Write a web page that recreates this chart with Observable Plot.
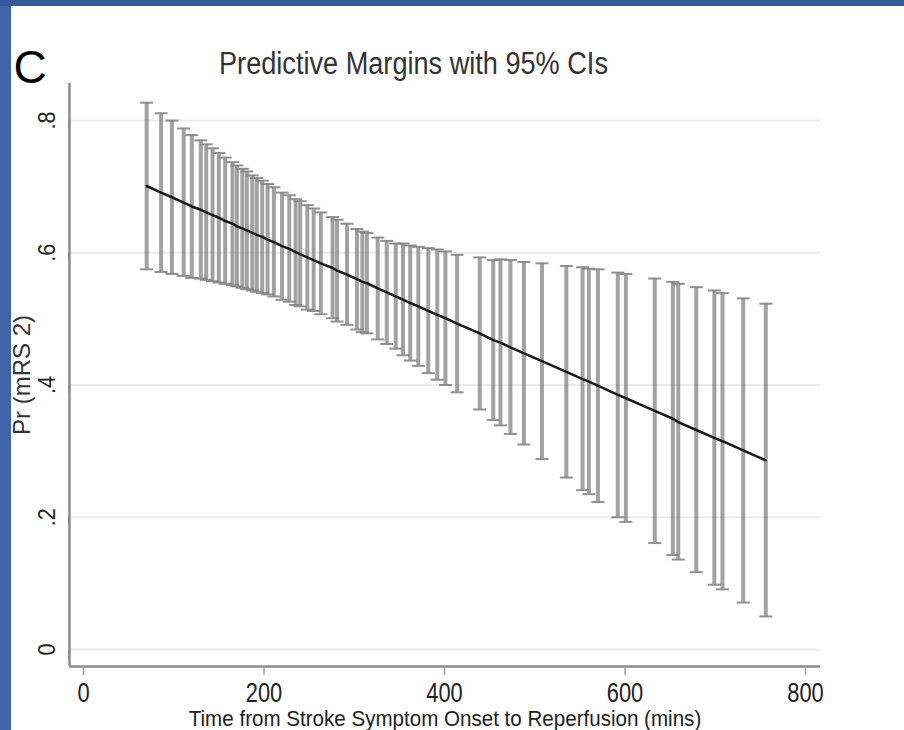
<!DOCTYPE html>
<html><head><meta charset="utf-8">
<script src="https://cdn.jsdelivr.net/npm/d3@7"></script>
<script src="https://cdn.jsdelivr.net/npm/@observablehq/plot@0.6"></script>
<style>
html,body{margin:0;padding:0;}
body{width:904px;height:730px;position:relative;overflow:hidden;background:#4163a8;font-family:"Liberation Sans",Arial,sans-serif;}
#topband{position:absolute;left:0;top:0;width:904px;height:6px;background:#39589a;}
#panel{position:absolute;left:11px;top:6px;width:893px;height:724px;background:#fff;}
#chart{position:absolute;left:0;top:0;}
</style></head><body>
<div id="topband"></div><div id="panel"></div><div id="chart"></div>
<script>
// time from onset to reperfusion (mins) at each predicted margin
const times = [70, 86, 98, 111, 120, 130, 136, 143, 150, 157, 165, 170, 176, 181, 187, 192, 198, 204, 211, 220, 228, 235, 240, 248, 255, 263, 276, 281, 292, 303, 309, 314, 326, 336, 346, 354, 362, 371, 382, 392, 401, 414, 439, 454, 462, 473, 488, 508, 535, 553, 560, 570, 592, 601, 633, 653, 659, 679, 699, 708, 731, 756];
// predictive margin Pr(mRS 0-2)
const margin = [.701, .691, .684, .676, .670, .665, .661, .657, .653, .648, .644, .640, .637, .634, .630, .627, .624, .620, .616, .610, .606, .601, .598, .593, .589, .584, .577, .573, .567, .560, .556, .554, .546, .540, .534, .529, .524, .519, .512, .506, .501, .493, .478, .468, .464, .457, .448, .436, .420, .409, .405, .399, .385, .380, .361, .349, .344, .332, .320, .315, .301, .286];
// lower 95% CI
const lower = [.575, .571, .568, .565, .562, .561, .559, .557, .555, .553, .551, .549, .547, .545, .543, .541, .539, .537, .534, .529, .526, .521, .519, .514, .512, .507, .501, .496, .491, .484, .480, .478, .469, .462, .455, .445, .437, .429, .418, .408, .400, .389, .363, .347, .339, .326, .310, .288, .260, .241, .235, .223, .200, .193, .161, .143, .136, .117, .098, .091, .071, .050];
// upper 95% CI
const upper = [.827, .811, .800, .788, .778, .770, .764, .758, .751, .744, .737, .732, .727, .723, .717, .713, .709, .704, .699, .691, .687, .681, .678, .672, .667, .661, .654, .650, .644, .636, .632, .630, .623, .618, .614, .614, .611, .609, .607, .605, .602, .597, .593, .589, .590, .589, .586, .584, .580, .578, .576, .575, .570, .568, .561, .556, .553, .548, .543, .539, .531, .523];

const xTicks = [0, 200, 400, 600, 800];
const yTicks = [0, 0.2, 0.4, 0.6, 0.8];
const yTickLabels = ["0", ".2", ".4", ".6", ".8"];
const xDomain = [-15.5, 816.6];
const yDomain = [-0.0257, 0.856];
const titleText = "Predictive Margins with 95% CIs";
const xLabel = "Time from Stroke Symptom Onset to Reperfusion (mins)";
const yLabel = "Pr (mRS 2)";
const panelLetter = "C";

const rows = times.map((t, i) => ({t, lo: lower[i], hi: upper[i], m: margin[i]}));
const capSymbol = {draw(ctx, size) { const w = Math.sqrt(size / Math.PI); ctx.moveTo(-w, 0); ctx.lineTo(w, 0); }};

const plot = Plot.plot({
  width: 904, height: 730,
  marginLeft: 69, marginRight: 84, marginTop: 83, marginBottom: 64,
  style: {background: "transparent", fontFamily: "'Liberation Sans', Arial, sans-serif", overflow: "visible"},
  x: {domain: xDomain},
  y: {domain: yDomain},
  marks: [
    Plot.ruleY(yTicks, {stroke: "#ececec", strokeWidth: 2}),
    Plot.ruleX([xDomain[0]], {stroke: "#8c8c8c", strokeWidth: 2.5}),
    Plot.ruleY([yDomain[0]], {stroke: "#8c8c8c", strokeWidth: 2.5}),
    Plot.axisY({ticks: yTicks, tickSize: 8, tickPadding: 7,
      tickFormat: d => yTickLabels[yTicks.indexOf(d)],
      rotate: -90, textAnchor: "middle", lineAnchor: "bottom", fontSize: 23,
      stroke: "#8c8c8c", strokeWidth: 2, fill: "#222", label: null}),
    Plot.axisX({ticks: xTicks, tickSize: 9, tickPadding: 7, fontSize: 27,
      stroke: "#a0a0a0", strokeWidth: 1.5, fill: "#222", label: null}),
    Plot.ruleX(rows, {x: "t", y1: "lo", y2: "hi", stroke: "#707070", strokeWidth: 4, strokeOpacity: 0.65}),
    Plot.dot(rows, {x: "t", y: "hi", symbol: capSymbol, r: 6.5, fill: "none", stroke: "#858585", strokeWidth: 2, strokeOpacity: 0.9}),
    Plot.dot(rows, {x: "t", y: "lo", symbol: capSymbol, r: 6.5, fill: "none", stroke: "#858585", strokeWidth: 2, strokeOpacity: 0.9}),
    Plot.line(rows, {x: "t", y: "m", stroke: "#1a1a1a", strokeWidth: 2.5}),
    Plot.text([titleText], {frameAnchor: "top", dx: -31.5, dy: -10, lineAnchor: "bottom", fontSize: 31, fill: "#333"}),
    Plot.text([xLabel], {frameAnchor: "bottom", dy: 59, lineAnchor: "bottom", fontSize: 22, fill: "#222"}),
    Plot.text([yLabel], {frameAnchor: "left", dx: -40, rotate: -90, textAnchor: "middle", lineAnchor: "bottom", fontSize: 24, fill: "#333"}),
    Plot.text([panelLetter], {frameAnchor: "top-left", dx: -56, dy: -1, textAnchor: "start", lineAnchor: "bottom", fontSize: 46, fill: "#000"})
  ]
});
document.getElementById("chart").appendChild(plot);

// condense text horizontally like the squashed original
function condense(el, k) {
  const L = el.getComputedTextLength();
  el.setAttribute("textLength", (L * k).toFixed(2));
  el.setAttribute("lengthAdjust", "spacingAndGlyphs");
}
plot.querySelectorAll("text").forEach(el => {
  const s = el.textContent;
  const parentLabel = el.parentNode && el.parentNode.getAttribute("aria-label");
  if (s === titleText) condense(el, 0.875);
  else if (s === xLabel) condense(el, 0.935);
  else if (parentLabel === "x-axis tick label") condense(el, 0.81);
  else if (parentLabel === "y-axis tick label") condense(el, 0.94);
});
</script>
</body></html>
